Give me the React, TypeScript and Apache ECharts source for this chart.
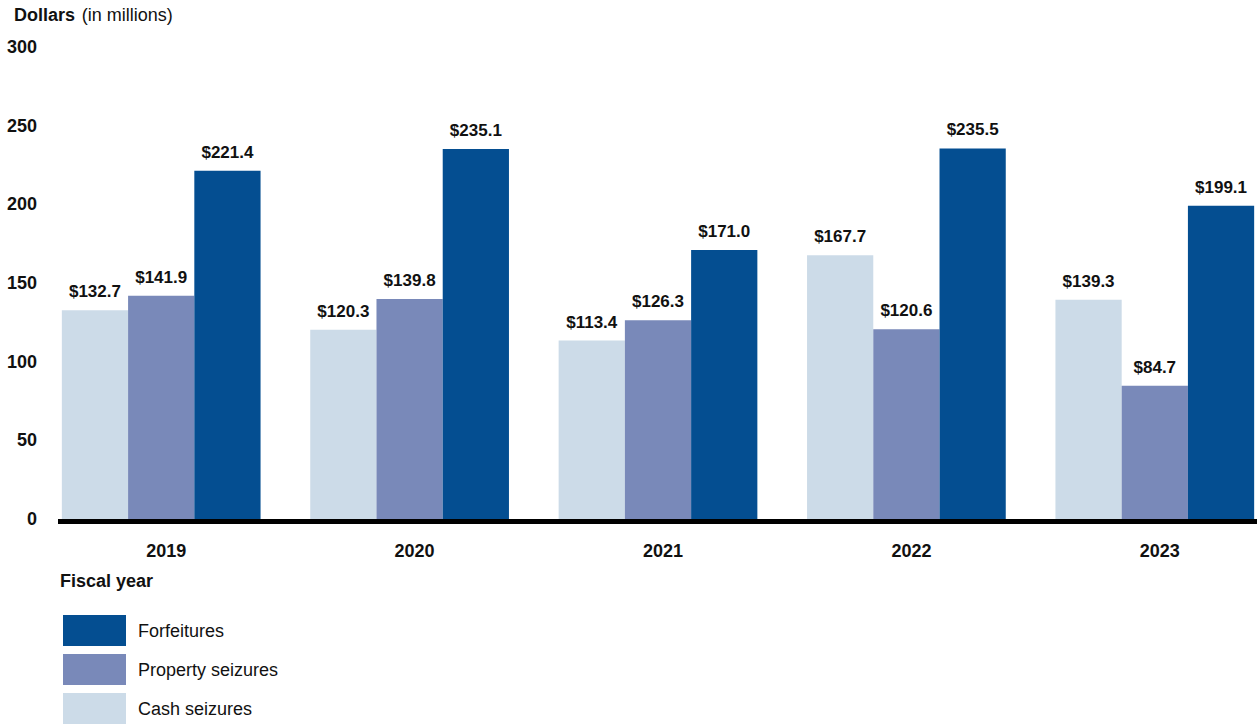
import React, { useEffect, useRef } from "react";
import * as echarts from "echarts";

const years = ["2019", "2020", "2021", "2022", "2023"];
const cashSeizures = [132.7, 120.3, 113.4, 167.7, 139.3];
const propertySeizures = [141.9, 139.8, 126.3, 120.6, 84.7];
const forfeitures = [221.4, 235.1, 171.0, 235.5, 199.1];
const legendOrder = ["Forfeitures", "Property seizures", "Cash seizures"];

const FONT = "Liberation Sans, Arial, sans-serif";

export default function App() {
  const ref = useRef<HTMLDivElement>(null);
  useEffect(() => {
    if (!ref.current) return;
    const chart = echarts.init(ref.current, null, { renderer: "svg" });
    const label = {
      show: true,
      position: "top",
      distance: 10,
      fontFamily: FONT,
      fontWeight: "bold",
      fontSize: 17,
      color: "#111",
      formatter: (p: any) => "$" + Number(p.value).toFixed(1),
    };
    chart.setOption({
      animation: false,
      textStyle: { fontFamily: FONT },
      grid: { left: 37, top: 47, width: 1242, height: 472, containLabel: false },
      legend: {
        orient: "vertical",
        left: 63,
        top: 615,
        padding: 0,
        itemWidth: 63,
        itemHeight: 31,
        itemGap: 8,
        icon: "rect",
        data: legendOrder,
        textStyle: { fontFamily: FONT, fontSize: 18, color: "#111", padding: [0, 0, 0, 7] },
        selectedMode: false,
      },
      xAxis: {
        type: "category",
        data: years,
        axisLine: { show: false },
        axisTick: { show: false },
        axisLabel: {
          margin: 23,
          padding: [0, 0, 0, 10],
          fontFamily: FONT,
          fontWeight: "bold",
          fontSize: 18,
          color: "#111",
        },
      },
      yAxis: {
        type: "value",
        min: 0,
        max: 300,
        interval: 50,
        splitLine: { show: false },
        axisLine: { show: false },
        axisTick: { show: false },
        axisLabel: {
          margin: 0,
          fontFamily: FONT,
          fontWeight: "bold",
          fontSize: 18,
          color: "#111",
        },
      },
      series: [
        {
          name: "Cash seizures",
          type: "bar",
          data: cashSeizures,
          barGap: "0%",
          barCategoryGap: "20%",
          itemStyle: { color: "#CCDBE8" },
          label,
        },
        {
          name: "Property seizures",
          type: "bar",
          data: propertySeizures,
          barGap: "0%",
          barCategoryGap: "20%",
          itemStyle: { color: "#7989B9" },
          label,
        },
        {
          name: "Forfeitures",
          type: "bar",
          data: forfeitures,
          barGap: "0%",
          barCategoryGap: "20%",
          itemStyle: { color: "#044E91" },
          label,
        },
      ],
      graphic: [
        {
          type: "line",
          shape: { x1: 58, y1: 521.5, x2: 1257, y2: 521.5 },
          style: { stroke: "#000", lineWidth: 5 },
          z: 10,
        },
        {
          type: "text",
          left: 14,
          top: 6,
          style: {
            text: "{b|Dollars}  {n|(in millions)}",
            rich: {
              b: { fontFamily: FONT, fontWeight: "bold", fontSize: 18, fill: "#111" },
              n: { fontFamily: FONT, fontSize: 18, fill: "#111" },
            },
          },
        },
        {
          type: "text",
          left: 60,
          top: 572,
          style: {
            text: "Fiscal year",
            fontFamily: FONT,
            fontWeight: "bold",
            fontSize: 18,
            fill: "#111",
          },
        },
      ],
    });
    return () => chart.dispose();
  }, []);
  return (
    <div style={{ position: "absolute", left: 0, top: 0, width: 1257, height: 725, overflow: "hidden" }}>
      <div ref={ref} style={{ width: 1300, height: 725 }} />
    </div>
  );
}
